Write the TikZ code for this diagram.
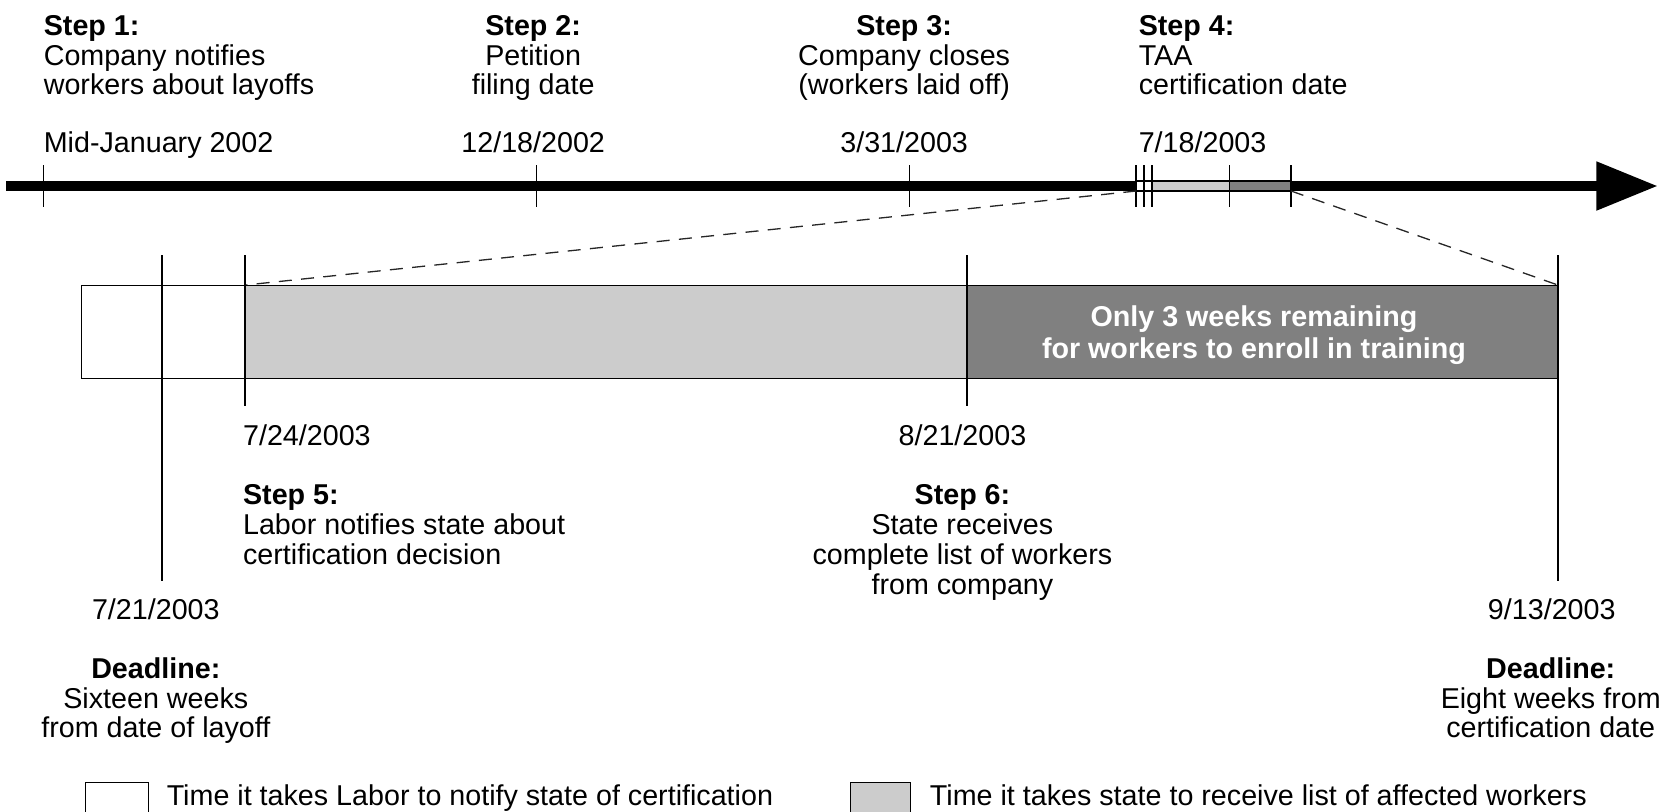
\documentclass[tikz,border=0pt]{standalone}
\usepackage{fontspec}
\setmainfont{Liberation Sans}
\usetikzlibrary{arrows.meta}

\definecolor{lightfill}{gray}{0.8}
\definecolor{darkfill}{gray}{0.5}

\tikzset{
    every node/.style={inner sep=0pt, font=\fontsize{15.4}{16}\selectfont},
    bar/.style={line width=5.3pt},
    tickline/.style={line width=0.9pt},
    dateline/.style={line width=1.1pt},
    outline/.style={line width=0.6pt},
    zoomline/.style={line width=0.7pt, dash pattern=on 7pt off 5pt, black!85},
}

\begin{document}
\begin{tikzpicture}[x=0.02cm, y=-0.02cm]
    \useasboundingbox (0,0) rectangle (1568,766);
    % time line
    \draw [bar] (6,175.5) to (1072,175.5);
    \draw [bar, -{Triangle[length=33pt, width=25pt]}] (1218,175.5) to (1564,175.5);
    \draw [outline, fill=white] (1072,170.8) rectangle (1087,180.2);
    \draw [outline, fill=lightfill] (1087,170.8) rectangle (1160,180.2);
    \draw [outline, fill=darkfill] (1160,170.8) rectangle (1218,180.2);
    \foreach \x in {41,506,858,1072,1079,1087,1160,1218}
        \draw [tickline] (\x,156) to (\x,195);
    \node (step_one) [anchor=north west, align=left] at (41,14) {\textbf{Step 1:}\\Company notifies\\workers about layoffs};
    \node (step_two) [anchor=north, align=center] at (503,14) {\textbf{Step 2:}\\Petition\\filing date};
    \node (step_three) [anchor=north, align=center] at (853,14) {\textbf{Step 3:}\\Company closes\\(workers laid off)};
    \node (step_four) [anchor=north west, align=left] at (1074,14) {\textbf{Step 4:}\\TAA\\certification date};
    \node (date_one) [anchor=base west] at (41,144) {Mid-January 2002};
    \node (date_two) [anchor=base] at (503,144) {12/18/2002};
    \node (date_three) [anchor=base] at (853,144) {3/31/2003};
    \node (date_four) [anchor=base west] at (1074,144) {7/18/2003};
    % zoomed part
    \coordinate (zoom_start) at (1072,180.2);
    \coordinate (zoom_end) at (1218,180.2);
    \coordinate (box_start) at (231,269);
    \coordinate (box_end) at (1470,269);
    \draw [zoomline] (zoom_start) to (box_start);
    \draw [zoomline] (zoom_end) to (box_end);
    \draw [outline, fill=white] (77,269) rectangle (231,357);
    \draw [outline, fill=lightfill] (231,269) rectangle (912,357);
    \draw [outline, fill=darkfill] (912,269) rectangle (1470,357);
    \draw [dateline] (153,241) to (153,548);      % 7/21
    \draw [dateline] (231,241) to (231,383);      % 7/24
    \draw [dateline] (912,241) to (912,383);      % 8/21
    \draw [dateline] (1470,241) to (1470,548);    % 9/13
    \node (remaining) [text=white, font=\fontsize{15.4}{17}\selectfont\bfseries, align=center] at (1183,316) {Only 3 weeks remaining\\for workers to enroll in training};
    \node (date_five) [anchor=base west] at (229,420) {7/24/2003};
    \node (date_six) [anchor=base] at (908,420) {8/21/2003};
    \node (step_five) [anchor=north west, align=left] at (229,457) {\textbf{Step 5:}\\Labor notifies state about\\certification decision};
    \node (step_six) [anchor=north, align=center] at (908,457) {\textbf{Step 6:}\\State receives\\complete list of workers\\from company};
    \node (date_left) [anchor=base] at (147,584) {7/21/2003};
    \node (date_right) [anchor=base] at (1464,584) {9/13/2003};
    \node (deadline_left) [anchor=north, align=center] at (147,620) {\textbf{Deadline:}\\Sixteen weeks\\from date of layoff};
    \node (deadline_right) [anchor=north, align=center] at (1463,620) {\textbf{Deadline:}\\Eight weeks from\\certification date};
    % key
    \draw [outline, fill=white] (81,738) rectangle (140,780);
    \node (key_white) [anchor=base west] at (157,760) {Time it takes Labor to notify state of certification};
    \draw [outline, fill=lightfill] (802,738) rectangle (859,780);
    \node (key_grey) [anchor=base west] at (877,760) {Time it takes state to receive list of affected workers};
\end{tikzpicture}
\end{document}
